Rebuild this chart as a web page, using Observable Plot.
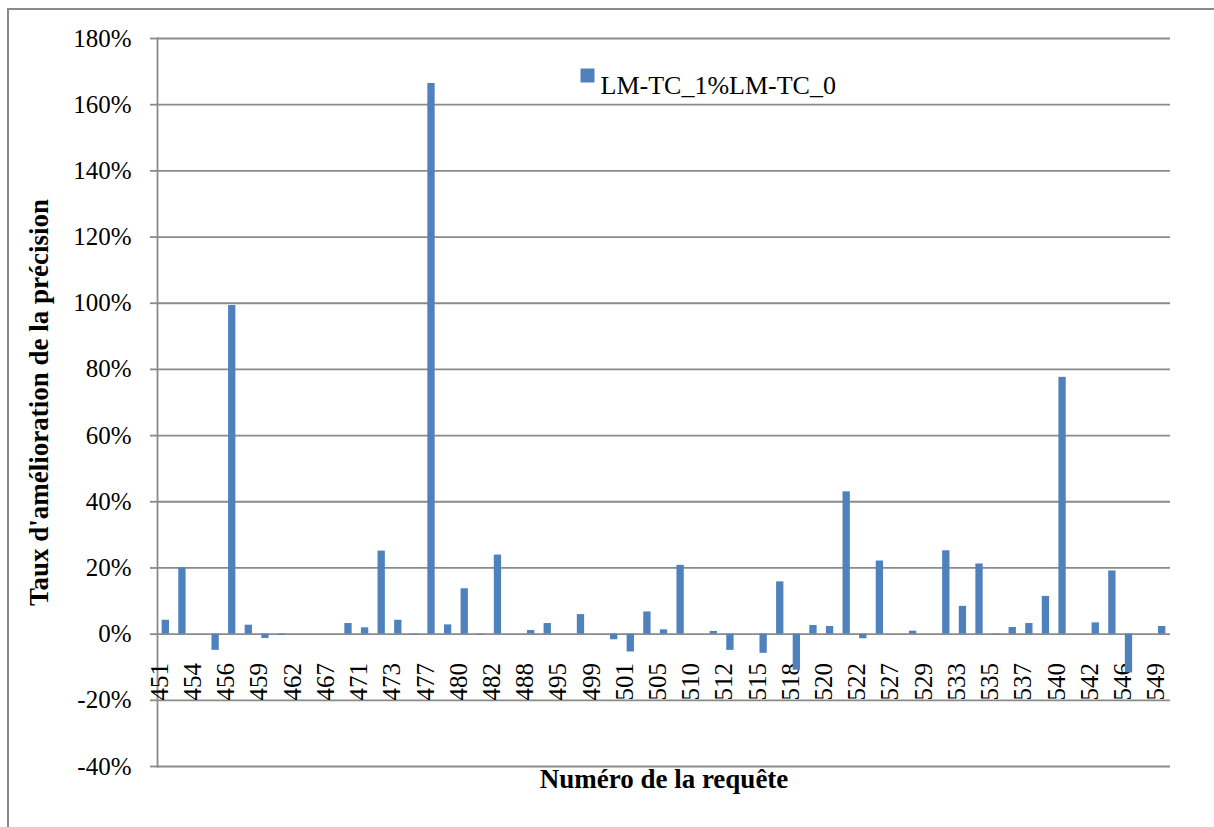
<!DOCTYPE html>
<html><head><meta charset="utf-8">
<script src="https://cdn.jsdelivr.net/npm/d3@7"></script>
<script src="https://cdn.jsdelivr.net/npm/@observablehq/plot@0.6"></script>
<style>
html,body{margin:0;padding:0;background:#fff;overflow:hidden;}
#wrap{position:relative;width:1214px;height:827px;overflow:hidden;}
#border{position:absolute;left:7px;top:8px;width:1300px;height:900px;border-left:2px solid #8a8a8a;border-top:2px solid #8a8a8a;}
#chart{position:absolute;left:0;top:0;}
</style></head><body>
<div id="wrap"><div id="border"></div><div id="chart"></div></div>
<script>
// Query numbers (every other one is shown as a tick label)
const requests = ["451","452","454","455","456","457","459","460","462","465","467","470","471","472","473","475","477","478","480","481","482","485","488","490","495","497","499","500","501","503","505","507","510","511","512","513","515","516","518","519","520","521","522","525","527","528","529","531","533","534","535","536","537","538","540","541","542","544","546","547","549"];
// Improvement rate (%)
const values = [4.2,20.0,0,-4.9,99.3,2.7,-1.3,-0.3,0,0,0,3.2,1.9,25.1,4.2,-0.2,166.4,2.8,13.7,-0.2,23.9,0,1.1,3.2,0,5.9,0,-1.7,-5.4,6.7,1.3,20.8,0,0.8,-4.9,0,-5.8,15.8,-10.9,2.6,2.3,43.0,-1.4,22.1,0,0.9,0,25.2,8.4,21.2,-0.2,2.0,3.2,11.4,77.6,0,3.4,19.1,-11.7,0,2.3];
const tickLabels = requests.filter((d, i) => i % 2 === 0);
const yTicks = [-40,-20,0,20,40,60,80,100,120,140,160,180];
const seriesName = "LM-TC_1%LM-TC_0";
const xTitle = "Numéro de la requête";
const yTitle = "Taux d'amélioration de la précision";

const data = requests.map((r, i) => ({request: r, value: values[i]}));
const font = "Liberation Serif";
const grid = "#8a8a8a";
const barColor = "#4F81BD";

const chart = Plot.plot({
  width: 1214, height: 827,
  marginLeft: 157, marginRight: 44, marginTop: 38, marginBottom: 61,
  style: {fontFamily: font, fontSize: "25px", background: "transparent", color: "#000"},
  x: {type: "band", domain: requests, paddingInner: 0.56, paddingOuter: 0.28, axis: null},
  y: {domain: [-40, 180], axis: null},
  marks: [
    Plot.ruleY(yTicks, {stroke: grid, strokeWidth: 1.8}),
    Plot.axisY({ticks: yTicks, tickFormat: d => d + "%", tickSize: 7, tickPadding: 19, stroke: grid, strokeWidth: 1.8, strokeOpacity: 1, fontSize: 25, fontFamily: font, label: null}),
    Plot.frame({anchor: "left", stroke: grid, strokeWidth: 1.8}),
    Plot.text(tickLabels, {x: d => d, text: d => d, frameAnchor: "bottom", dy: -66, dx: 2, rotate: -90, textAnchor: "start", fontSize: 25, fontFamily: font}),
    Plot.barY(data, {x: "request", y: "value", fill: barColor}),
    Plot.dot([seriesName], {frameAnchor: "top-left", dx: 430, dy: 37, symbol: "square", r: 7.9, fill: barColor, stroke: null}),
    Plot.text([seriesName], {text: d => d, frameAnchor: "top-left", dx: 443, dy: 37, textAnchor: "start", fontSize: 26, fontFamily: font}),
    Plot.text([xTitle], {text: d => d, frameAnchor: "bottom", dy: 21, textAnchor: "middle", fontSize: 27, fontWeight: "bold", fontFamily: font}),
    Plot.text([yTitle], {text: d => d, frameAnchor: "left", dx: -118, rotate: -90, textAnchor: "middle", fontSize: 27, fontWeight: "bold", fontFamily: font})
  ]
});
document.getElementById("chart").appendChild(chart);
</script>
</body></html>
